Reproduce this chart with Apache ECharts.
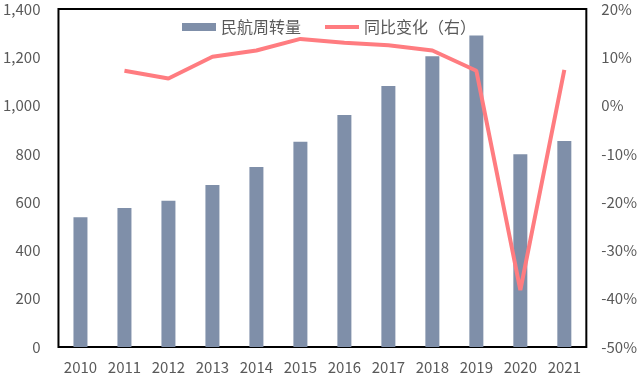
<!DOCTYPE html>
<html><head><meta charset="utf-8">
<script src="https://cdn.jsdelivr.net/npm/echarts@6/dist/echarts.min.js"></script>
<style>html,body{margin:0;padding:0;background:#fff}#c{width:640px;height:384px}</style>
</head><body><div id="c"></div>
<script>
const years = ['2010','2011','2012','2013','2014','2015','2016','2017','2018','2019','2020','2021'];
const turnover = [537, 576, 606, 671, 746, 850, 961, 1081, 1204, 1290, 798, 853];
const yoy = [null, 7.2, 5.6, 10.1, 11.4, 13.8, 13.0, 12.5, 11.4, 7.2, -38.2, 7.4];
const barName = '民航周转量';
const lineName = '同比变化（右）';

const font = '"Microsoft YaHei","Noto Sans CJK SC","DejaVu Sans",sans-serif';
const txt = '#595959';
const chart = echarts.init(document.getElementById('c'));
chart.setOption({
  animation: false,
  textStyle: {fontFamily: font},
  grid: {left: 58, right: 49, top: 9, bottom: 37, show: true, borderColor: '#000', borderWidth: 2, backgroundColor: 'transparent'},
  legend: {
    left: 177, top: 14, itemGap: 24, itemWidth: 34, itemHeight: 8,
    textStyle: {color: txt, fontSize: 16, fontFamily: font},
    data: [
      {name: barName, icon: 'rect'},
      {name: lineName, icon: 'path://M0 0H34V4H0Z', itemStyle: {color: '#FF7C80'}}
    ]
  },
  xAxis: {
    type: 'category', data: years,
    axisLine: {show: false}, axisTick: {show: false},
    axisLabel: {color: txt, fontSize: 15, margin: 13, fontFamily: font}
  },
  yAxis: [{
    type: 'value', min: 0, max: 1400, interval: 200,
    splitLine: {show: false}, axisLine: {show: false}, axisTick: {show: false},
    axisLabel: {color: txt, fontSize: 15, margin: 18, fontFamily: font,
      formatter: v => v.toLocaleString('en-US')}
  }, {
    type: 'value', min: -50, max: 20, interval: 10,
    splitLine: {show: false}, axisLine: {show: false}, axisTick: {show: false},
    axisLabel: {color: txt, fontSize: 15, margin: 15, fontFamily: font, formatter: v => v + '%'}
  }],
  series: [{
    name: barName, type: 'bar', data: turnover, barWidth: 14,
    itemStyle: {color: '#7F8FA9'}
  }, {
    name: lineName, type: 'line', yAxisIndex: 1, data: yoy,
    symbol: 'none', connectNulls: false,
    lineStyle: {color: '#FF7C80', width: 4}, itemStyle: {color: '#FF7C80'}
  }]
});
</script></body></html>
